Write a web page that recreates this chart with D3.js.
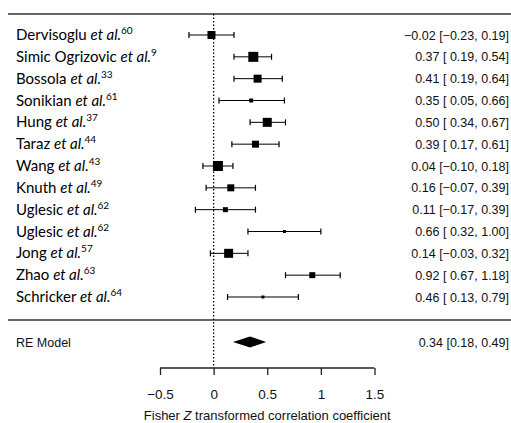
<!DOCTYPE html>
<html>
<head>
<meta charset="utf-8">
<script src="https://cdn.jsdelivr.net/npm/d3@7"></script>
<style>
  body { margin: 0; background: #fff; }
  text { white-space: pre; }
</style>
</head>
<body>
<svg id="chart" width="511" height="423"></svg>
<script>
// studies, as drawn top to bottom
var authors = ["Dervisoglu", "Simic Ogrizovic", "Bossola", "Sonikian", "Hung", "Taraz",
  "Wang", "Knuth", "Uglesic", "Uglesic", "Jong", "Zhao", "Schricker"];
var refs = ["60", "9", "33", "61", "37", "44", "43", "49", "62", "62", "57", "63", "64"];
var est = [-0.02, 0.37, 0.41, 0.35, 0.50, 0.39, 0.04, 0.16, 0.11, 0.66, 0.14, 0.92, 0.46];
var lower = [-0.23, 0.19, 0.19, 0.05, 0.34, 0.17, -0.10, -0.07, -0.17, 0.32, -0.03, 0.67, 0.13];
var upper = [0.19, 0.54, 0.64, 0.66, 0.67, 0.61, 0.18, 0.39, 0.39, 1.00, 0.32, 1.18, 0.79];
// box weights
var weights = [8, 10, 8, 4, 9, 7, 10, 7, 5, 3, 9, 6, 3];
var pooled = { est: 0.34, lo: 0.18, hi: 0.49 };
var ticks = [-0.5, 0, 0.5, 1, 1.5];

var svg = d3.select("#chart");
var x = d3.scaleLinear().domain([-0.5, 1.5]).range([160, 374.5]);
var y = d3.scaleLinear().domain([0, 12]).range([35, 297]);

function fmt(v) {
  return (v < 0 ? "\u2212" : "") + Math.abs(v).toFixed(2);
}
function fmtCI(v) {
  return v < 0 ? fmt(v) : " " + fmt(v);
}

// horizontal rules
svg.append("line").attr("x1", 8).attr("x2", 511).attr("y1", 14).attr("y2", 14)
  .attr("stroke", "#333").attr("stroke-width", 1.5);
svg.append("line").attr("x1", 8).attr("x2", 511).attr("y1", 320).attr("y2", 320)
  .attr("stroke", "#333").attr("stroke-width", 1.5);

// reference line at 0
svg.append("line").attr("x1", x(0)).attr("x2", x(0)).attr("y1", 14).attr("y2", 368)
  .attr("stroke", "#000").attr("stroke-width", 1.3).attr("stroke-dasharray", "1.5,2");

var rows = svg.selectAll("g.row").data(est).enter().append("g").attr("class", "row")
  .attr("transform", function(d, i) { return "translate(0," + y(i) + ")"; });

rows.append("line")
  .attr("x1", function(d, i) { return x(lower[i]); })
  .attr("x2", function(d, i) { return x(upper[i]); })
  .attr("stroke", "#000").attr("stroke-width", 1);
rows.append("line")
  .attr("x1", function(d, i) { return x(lower[i]); })
  .attr("x2", function(d, i) { return x(lower[i]); })
  .attr("y1", -3).attr("y2", 3).attr("stroke", "#000").attr("stroke-width", 1.2);
rows.append("line")
  .attr("x1", function(d, i) { return x(upper[i]); })
  .attr("x2", function(d, i) { return x(upper[i]); })
  .attr("y1", -3).attr("y2", 3).attr("stroke", "#000").attr("stroke-width", 1.2);
rows.append("rect")
  .attr("x", function(d, i) { return x(d) - weights[i] / 2; })
  .attr("y", function(d, i) { return -weights[i] / 2; })
  .attr("width", function(d, i) { return weights[i]; })
  .attr("height", function(d, i) { return weights[i]; })
  .attr("fill", "#000");

// study labels
var lab = rows.append("text").attr("x", 16).attr("y", 5)
  .attr("font-family", "Lato, 'Open Sans', sans-serif").attr("font-size", 15).attr("fill", "#000");
lab.append("tspan").text(function(d, i) { return authors[i] + " "; });
lab.append("tspan").attr("font-style", "italic").text("et al.");
lab.append("tspan").attr("font-size", 10).attr("dy", -6).text(function(d, i) { return refs[i]; });

// estimates text
rows.append("text").attr("x", 509).attr("y", 4.5).attr("text-anchor", "end")
  .attr("font-family", "'Liberation Sans', Arial, sans-serif").attr("font-size", 12.5).attr("fill", "#111")
  .text(function(d, i) { return fmt(d) + " [" + fmtCI(lower[i]) + ", " + fmt(upper[i]) + "]"; });

// pooled estimate
var yRE = 342;
svg.append("path")
  .attr("d", "M" + x(pooled.lo) + "," + yRE + "L" + x(pooled.est) + "," + (yRE - 5.5) +
    "L" + x(pooled.hi) + "," + yRE + "L" + x(pooled.est) + "," + (yRE + 5.5) + "Z")
  .attr("fill", "#000");
svg.append("text").attr("x", 16).attr("y", yRE + 4.5)
  .attr("font-family", "'Liberation Sans', Arial, sans-serif").attr("font-size", 12.5).attr("fill", "#111")
  .text("RE Model");
svg.append("text").attr("x", 509).attr("y", yRE + 4.5).attr("text-anchor", "end")
  .attr("font-family", "'Liberation Sans', Arial, sans-serif").attr("font-size", 12.5).attr("fill", "#111")
  .text(fmt(pooled.est) + " [" + fmt(pooled.lo) + ", " + fmt(pooled.hi) + "]");

// x axis
var axis = svg.append("g").attr("transform", "translate(0,368)")
  .call(d3.axisBottom(x).tickValues(ticks).tickSize(7).tickPadding(14)
    .tickFormat(function(d) { return (d < 0 ? "\u2212" : "") + Math.abs(d); }));
axis.select(".domain").attr("stroke", "#222").attr("stroke-width", 1.3).attr("d", "M" + x(-0.5) + ",0H" + x(1.5));
axis.selectAll(".tick line").attr("stroke", "#222").attr("stroke-width", 1.3);
axis.selectAll(".tick text").attr("font-family", "'Liberation Sans', Arial, sans-serif")
  .attr("font-size", 13.5).attr("fill", "#111");

var title = svg.append("text").attr("x", x(0.5)).attr("y", 420).attr("text-anchor", "middle")
  .attr("font-family", "'Liberation Sans', Arial, sans-serif").attr("font-size", 13).attr("fill", "#111");
title.append("tspan").text("Fisher ");
title.append("tspan").attr("font-style", "italic").text("Z");
title.append("tspan").text(" transformed correlation coefficient");
</script>
</body>
</html>
